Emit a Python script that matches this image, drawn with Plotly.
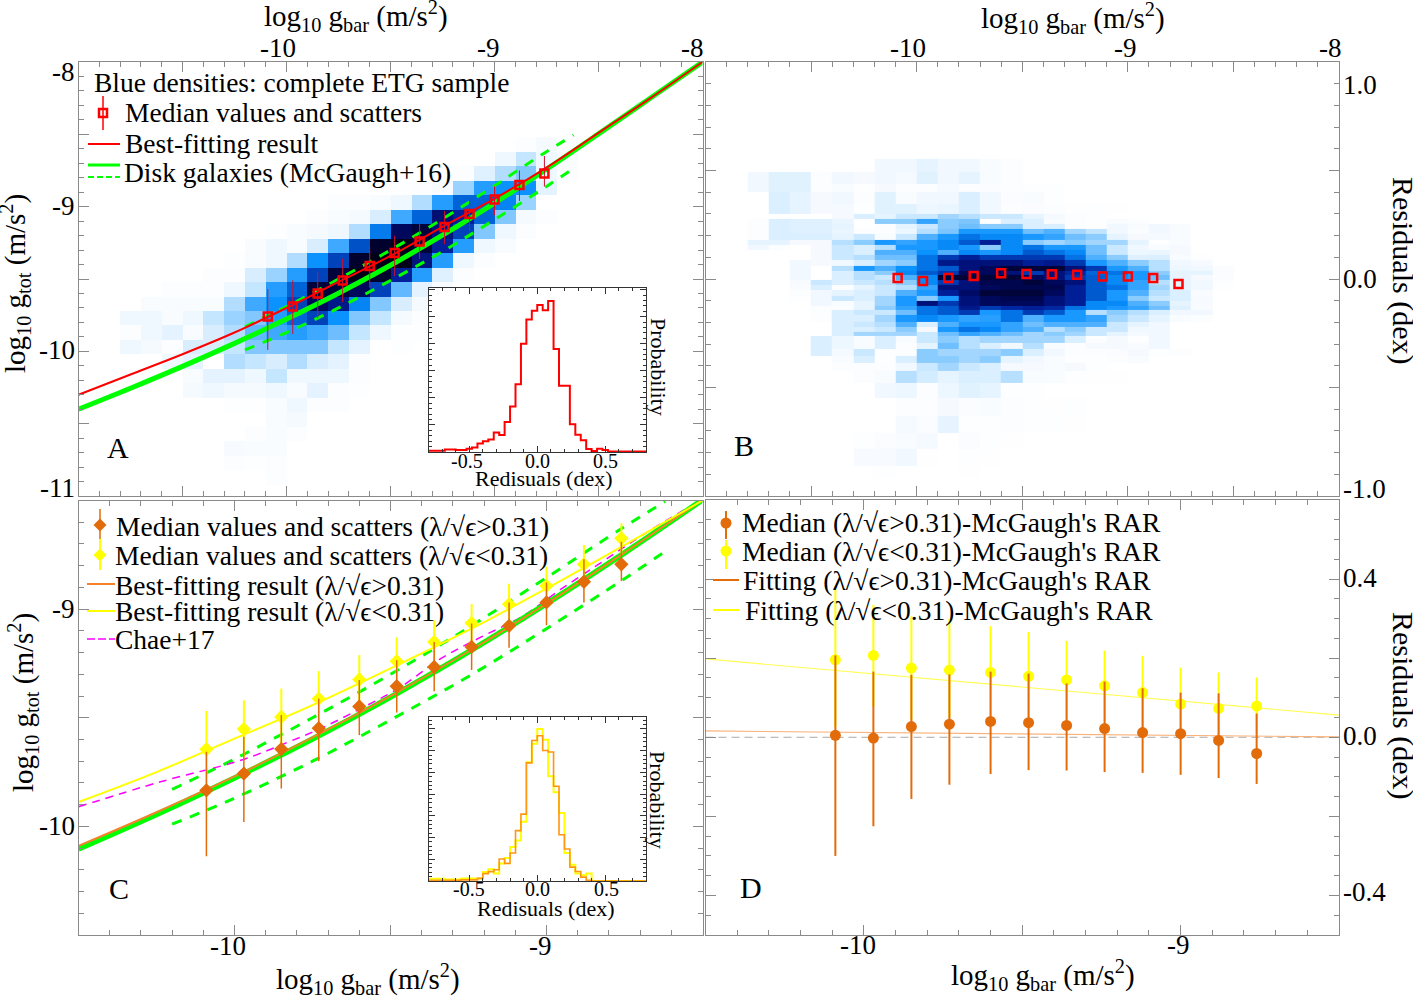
import plotly.graph_objects as go

W, H = 1413, 996
SERIF = "Liberation Serif"
GREEN = "#00ff00"
RED = "#ff0000"
ORANGE = "#e26b0a"
FIT_ORANGE = "#f5822a"
YELLOW = "#ffff00"
FRAME = "#8a8a8a"

# median points, same gbar bins in all four panels
gbar_bins = [-10.09, -9.97, -9.85, -9.73, -9.60, -9.48, -9.36, -9.24, -9.12, -9.00, -8.88, -8.76]

# panel A
a_med = [-9.76, -9.69, -9.60, -9.51, -9.41, -9.32, -9.24, -9.14, -9.05, -8.95, -8.85, -8.77]
a_up = [0.19, 0.18, 0.15, 0.15, 0.13, 0.12, 0.12, 0.11, 0.11, 0.09, 0.10, 0.12]
a_dn = [0.23, 0.19, 0.17, 0.15, 0.15, 0.16, 0.12, 0.12, 0.12, 0.11, 0.11, 0.09]

curve_x = [-11, -10.75, -10.5, -10.25, -10, -9.75, -9.5, -9.25, -9, -8.75, -8.5, -8.25, -8]
rar_y = [-10.40, -10.255, -10.104, -9.945, -9.777, -9.598, -9.405, -9.197, -8.975, -8.741, -8.497, -8.249, -8.0]
best_y = [-10.30, -10.16, -10.02, -9.87, -9.70, -9.52, -9.34, -9.14, -8.945, -8.73, -8.49, -8.25, -8.0]

dash_x = [-10.2, -10, -9.75, -9.5, -9.25, -9, -8.75, -8.62]
dash_hi = [-9.83, -9.69, -9.50, -9.30, -9.085, -8.855, -8.62, -8.505]
dash_lo = [-9.99, -9.87, -9.70, -9.51, -9.31, -9.09, -8.86, -8.735]

# panel B
b_med = [0.005, -0.009, 0.005, 0.014, 0.026, 0.023, 0.022, 0.02, 0.011, 0.011, 0.005, -0.023]

# panel C
c_fast = [-9.834, -9.757, -9.644, -9.548, -9.448, -9.355, -9.266, -9.174, -9.077, -8.969, -8.874, -8.794]
c_fast_up = [0.177, 0.169, 0.156, 0.136, 0.121, 0.12, 0.115, 0.108, 0.108, 0.092, 0.104, 0.104]
c_fast_dn = [0.304, 0.223, 0.182, 0.152, 0.132, 0.121, 0.112, 0.106, 0.101, 0.105, 0.095, 0.077]
c_slow = [-9.645, -9.552, -9.496, -9.412, -9.324, -9.24, -9.151, -9.064, -8.977, -8.893, -8.794, -8.674]
c_slow_up = [0.176, 0.131, 0.13, 0.126, 0.112, 0.11, 0.099, 0.087, 0.094, 0.088, 0.089, 0.069]
c_slow_dn = [0.18, 0.13, 0.13, 0.12, 0.11, 0.11, 0.10, 0.09, 0.09, 0.09, 0.09, 0.07]

c_curve_x = [-10.5, -10.25, -10, -9.75, -9.5, -9.25, -9, -8.75, -8.5]
c_rar = [-10.104, -9.945, -9.777, -9.598, -9.405, -9.197, -8.975, -8.741, -8.497]
c_fit_fast = [-10.09, -9.935, -9.77, -9.59, -9.40, -9.195, -8.975, -8.74, -8.497]
c_fit_slow = [-9.888, -9.75, -9.596, -9.442, -9.273, -9.097, -8.905, -8.705, -8.5]

chae_x = [-10.5, -10.24, -9.98, -9.84, -9.725, -9.596, -9.467, -9.338, -9.209, -9.08, -8.95, -8.821, -8.692, -8.524]
chae_y = [-9.91, -9.796, -9.696, -9.619, -9.55, -9.458, -9.358, -9.227, -9.128, -9.035, -8.905, -8.782, -8.659, -8.513]

# panel D
d_fast = [0.005, -0.002, 0.027, 0.033, 0.040, 0.037, 0.030, 0.022, 0.012, 0.009, -0.008, -0.041]
d_fast_up = [0.202, 0.168, 0.131, 0.126, 0.126, 0.124, 0.106, 0.119, 0.112, 0.104, 0.119, 0.101]
d_fast_dn = [0.305, 0.223, 0.183, 0.153, 0.133, 0.120, 0.114, 0.110, 0.102, 0.104, 0.095, 0.077]
d_slow = [0.196, 0.207, 0.175, 0.170, 0.164, 0.154, 0.145, 0.130, 0.113, 0.084, 0.073, 0.079]
d_slow_up = [0.178, 0.128, 0.131, 0.130, 0.117, 0.112, 0.099, 0.089, 0.093, 0.092, 0.091, 0.072]
d_slow_dn = [0.17, 0.13, 0.13, 0.12, 0.11, 0.11, 0.10, 0.09, 0.09, 0.09, 0.09, 0.07]
fit_ends_x = [-10.5, -8.5]
d_fit_fast = [0.016, 0.001]
d_fit_slow = [0.198, 0.056]
zero_line = [0, 0]

# residual histograms, 40 bins of 0.04 dex from -0.8 to 0.8
hist_a = [0.05, 0.05, 0.05, 0.09, 0.09, 0.07, 0.07, 0.12, 0.17, 0.31, 0.40, 0.46, 0.72, 0.63, 1.11, 1.68, 2.5, 4.0, 4.9, 5.22,
          5.43, 5.24, 5.58, 3.81, 2.45, 2.45, 1.03, 0.64, 0.43, 0.11, 0.04, 0.12, 0.07, 0.02, 0.02, 0.02, 0.02, 0.02, 0.02, 0.02]
hist_c_fast = [0.03, 0.03, 0.03, 0.03, 0.03, 0.03, 0.05, 0.05, 0.05, 0.12, 0.34, 0.43, 0.52, 1.01, 0.81, 1.29, 2.32, 3.08, 5.44, 6.47,
               6.69, 6.01, 5.94, 4.36, 2.13, 1.47, 0.64, 0.44, 0.18, 0.03, 0, 0, 0, 0, 0, 0, 0, 0, 0, 0]
hist_c_slow = [0.1, 0.1, 0.1, 0.07, 0.07, 0.07, 0.12, 0.12, 0.12, 0.12, 0.41, 0.54, 0.34, 0.8, 1.06, 1.56, 1.87, 2.73, 5.47, 6.32,
               7.0, 6.5, 4.82, 4.09, 3.13, 1.29, 0.75, 0.34, 0.26, 0.34, 0, 0, 0, 0, 0, 0, 0, 0, 0, 0]
hist_edges = [round(-0.8 + 0.04 * i, 2) for i in range(41)]

# density cells on 0-10 shade scale: (first column, shades), column 0 starts at -11, width 0.1 dex
heat_a_top_y = -8.572
heat_a_rows = [
    (21, [0.3, 0.7, 0.3]),
    (20, [1, 2.5, 1, 0.5]),
    (17, [0.2, 0.3, 1.7, 3, 4, 1, 0.3]),
    (15, [0.2, 0.3, 0.6, 3.5, 5.5, 6, 6, 1.5]),
    (12, [0.3, 0.3, 0.5, 1, 3, 5.5, 7, 7, 6.3, 3.5]),
    (11, [0.3, 0.5, 0.7, 2, 5, 7, 8.7, 8, 7, 4, 0.7, 0.3]),
    (9, [0.2, 0.5, 0.7, 1, 3, 6.5, 9, 9.5, 8.5, 7.5, 4, 1, 0.3]),
    (8, [0.5, 1, 0.5, 2, 5, 7.3, 9.7, 10, 9.5, 8, 5.5, 1, 0.5]),
    (7, [0.2, 0.5, 1, 3, 6, 7.5, 9.7, 10, 10, 8.5, 5.5, 1, 0.3]),
    (6, [0.3, 0.3, 2, 3.5, 5.5, 7.5, 9.5, 10, 9.7, 8, 5.5, 1.7, 0.3]),
    (4, [0.3, 0.3, 0.3, 1, 2.5, 5.5, 7, 9.5, 9.5, 9, 7.5, 4.5, 1.5, 0.5]),
    (3, [0.5, 0.5, 0.5, 0.5, 3, 5, 6, 7.5, 9, 8.3, 6.3, 4, 2, 0.7]),
    (2, [1, 1, 0.5, 1, 2.5, 3.5, 4, 5.5, 7, 7.5, 6, 4, 2.5, 0.7, 0.3, 0.2]),
    (2, [0.3, 1, 1.5, 0.5, 2, 3, 4.5, 5, 5.5, 5, 4.3, 2.5, 1, 0.2, 0.2]),
    (2, [1, 0.7, 0.3, 2, 2, 2.5, 4, 4, 4, 4, 2.5, 1.5, 0, 0.2]),
    (4, [1, 1.5, 0, 3, 2.5, 2, 3, 2, 1.5, 0.3]),
    (5, [0.5, 1.5, 1.5, 1, 2.5, 1, 1, 1, 0.3]),
    (5, [0.7, 1, 0.7, 0.7, 1, 0.5, 1.5, 0.3, 0.2]),
    (7, [0.2, 0.2, 0.5, 1, 0.3, 0.3]),
    (9, [0.5, 0.7]),
    (8, [0.3, 0.5, 0.3]),
    (7, [0.6, 0.5, 0.5]),
    (7, [0.3, 0.2, 0.3]),
    (9, [0.3]),
]

heat_b_edges = [0.5535, 0.4924, 0.4388, 0.4006, 0.3471, 0.3012, 0.2783, 0.2554, 0.2324, 0.2095, 0.1819, 0.1590, 0.1361, 0.1131,
                0.0902, 0.0612, 0.0382, 0.0183, -0.0046, -0.0275, -0.0505, -0.0765, -0.0994, -0.1223, -0.1422, -0.1651,
                -0.1957, -0.2187, -0.2416, -0.2615, -0.2951, -0.3211, -0.3563, -0.3869, -0.4251, -0.4786, -0.5474, -0.6315,
                -0.7080, -0.7844, -0.8609, -0.9144]
heat_b_rows = [
    (8, [1, 1, 1.5, 1, 1, 0.5, 0.3]),
    (2, [1, 1.7, 1.7, 0.3, 1, 0.7, 1, 0.8, 1.7, 1, 1.5, 0.5, 0.3]),
    (2, [1, 1.7, 1.7, 0.3, 0.5, 0.2, 0.7, 0.3, 0.3, 0.8, 0.3, 0.4, 0.3, 0.2, 0.2]),
    (3, [2, 1.5, 0.7, 1, 0.3, 1.7, 0.5, 1, 1, 2, 1, 0.4, 0.5, 0.2]),
    (3, [2, 1.5, 0.7, 0.8, 0.2, 1.7, 1.7, 1.2, 1.3, 2, 1, 0.3, 0.4, 0.3, 0.1, 0.2, 0.1]),
    (6, [0.7, 2, 1.5, 2.5, 2.5, 3.5, 3, 2.5, 2.5, 1.5, 0.8, 0.3, 0.1]),
    (2, [0.3, 2, 1.8, 1.8, 1.3, 0, 4, 4, 5.5, 4, 4.3, 0, 2, 2, 0.5, 0.3, 0.2, 0.5, 0.3]),
    (2, [0.3, 2, 1.8, 1.8, 1.5, 0, 0.3, 1.5, 2.5, 4, 4.5, 4, 4, 2, 2, 0.3, 0.1, 1, 0.5, 1, 0.5]),
    (2, [0.3, 2, 1.8, 1.8, 1.3, 0.3, 0.3, 1.2, 3, 4.3, 6, 6, 6, 4.5, 5, 3.5, 2.7, 1, 0.4, 1, 0.5]),
    (2, [0.3, 2, 2, 2, 1.5, 2.5, 0.5, 2.5, 5, 6, 7, 6.5, 6.5, 6, 5.5, 4.5, 4, 1.5, 0.7, 0.8, 0.5]),
    (2, [1.5, 1.5, 0.7, 0.7, 3, 4, 6, 5.5, 6, 6.5, 7.5, 8.5, 6.5, 4, 3.5, 4, 3.5, 3.5, 1.5, 0.2, 0.5]),
    (2, [1, 0.3, 0, 0.7, 2.5, 2, 3, 6, 6, 6.5, 6, 4, 6.5, 7, 6, 6, 4.5, 2.5, 1, 0.5, 0.7]),
    (5, [0.7, 2.5, 2, 5, 5, 6.3, 5, 6.5, 6, 6.5, 7.5, 7, 6.5, 4.5, 2.5, 1.2, 1.3, 0.7]),
    (5, [0.7, 2.5, 3, 4.5, 4.5, 7, 8, 8.5, 8, 8, 8, 8, 7, 5, 4, 1.8, 2, 0.5, 0.2]),
    (4, [1, 0.7, 1, 2, 3.5, 4, 7, 8.7, 9, 9, 9, 8.5, 8.7, 8, 6, 5, 4, 3, 1, 0.6]),
    (4, [1, 0, 3, 6, 5, 6.3, 7, 7.5, 9, 9.5, 10, 10, 10, 9, 8, 6, 5, 3, 1.2, 1, 0.4]),
    (4, [1, 0, 2, 3, 4, 6.5, 7.5, 8, 9.5, 9.5, 9, 8, 9, 8.3, 7.3, 7, 6, 4, 1.5, 1.5, 0.4]),
    (4, [1, 0, 2, 3, 2.5, 5, 6.5, 10, 10, 10, 10, 9.5, 9, 8, 7.5, 6.5, 6, 4.5, 1.5, 0.7, 0.4]),
    (4, [0.6, 2.5, 2, 2.5, 3, 4, 6.5, 8, 9, 9.7, 9.7, 10, 9.5, 9, 7.5, 6.5, 5.5, 3, 1.5, 1, 0.3]),
    (4, [0.5, 2, 0.3, 1.5, 2.5, 3, 5.5, 9, 9, 9.5, 9.7, 9.7, 9.7, 8.5, 7.5, 7, 5.5, 3.5, 1.5, 1, 0.2]),
    (4, [0.3, 1, 1.5, 2, 2.5, 5, 6, 8.5, 9.3, 10, 10, 10, 9.5, 8.5, 7.5, 6, 5, 3, 2, 0.5]),
    (4, [0.2, 1, 2.5, 2, 3.5, 6, 4, 6, 9, 9.5, 9.7, 9.7, 9, 8.5, 7.5, 6, 4, 2.5, 2, 0.6]),
    (5, [1, 0.5, 1.5, 3.5, 6, 9, 8, 9, 9.5, 9.5, 9.5, 9, 8.5, 6.5, 6.5, 5, 4, 1.5, 0.6]),
    (5, [0.3, 0.3, 1.5, 4, 5.5, 7, 7.5, 8.7, 8, 8.3, 8.5, 8.3, 7, 6.5, 6, 5.5, 4.5, 1.8, 0.5]),
    (5, [0.3, 2, 2.5, 2.5, 4.5, 7, 7.5, 8, 6, 7, 8, 7.5, 6, 3, 4, 3, 2, 1, 1]),
    (5, [0.3, 2, 2, 3.5, 6, 6.5, 6, 5.5, 5.7, 7, 5, 6, 6, 5.5, 3.5, 2.5, 1.5, 0.5, 0.3]),
    (6, [2, 2.5, 3, 5, 2, 5, 6, 6, 5.5, 4.5, 5, 5, 5, 2.5, 1.5, 1]),
    (6, [2, 2, 2.5, 4, 0.7, 6, 7, 6.5, 5.5, 5, 3, 4, 2.5, 2.5, 1, 1]),
    (6, [2, 3.5, 3.5, 3.5, 2.5, 4.5, 5.5, 5, 4.5, 3.5, 4, 3.5, 2.5, 1.5, 0.8, 1]),
    (5, [2, 1.2, 0.5, 2, 0.5, 2.5, 4, 3, 3.5, 3.5, 3.5, 3.5, 2, 0.3, 0.7, 0.2, 1]),
    (5, [2, 1.2, 0.5, 2, 0.3, 1.5, 4.5, 3, 2, 1, 3, 0.5, 0.3, 0.7, 0.7, 0.5, 1]),
    (5, [2, 0.8, 2.5, 0.2, 0.3, 4, 3.5, 3.5, 3.5, 4, 2, 1, 0.3, 0.3, 0.4, 0.7, 0.2, 0.3]),
    (6, [0.5, 2, 0.2, 2, 4, 4, 3.5, 4, 1.5, 1, 0.5, 0.2, 0.2, 0.3, 0.5]),
    (6, [0.3, 0.3, 0.3, 1, 2.5, 3.5, 2.5, 2, 0.7, 0.7, 0.5, 0.7, 0.2]),
    (7, [0.3, 0.5, 3, 2.2, 1.5, 2, 2, 3, 0.5, 0.5, 0.2, 0.1, 0.1]),
    (8, [1, 1.2, 0.3, 1.2, 1.7, 1.5, 0.2, 0.2]),
    (9, [0.3, 0.3, 0.7, 0.4, 0.5, 0.3, 0.2, 0.1, 0.2]),
    (9, [0.8, 0.4, 1.5, 0.2, 0.2, 0.3, 0.2, 0.2, 0.1]),
    (7, [0.2, 0.4, 0.5, 0.8, 0, 0.4, 0.2, 0.1]),
    (7, [0.6, 0.6, 1, 0.1, 0, 0.2, 0.1]),
    (8, [0.2, 0, 0, 0, 0.1]),
]

shades = [[0, "#ffffff"], [0.03, "#fcfdff"], [0.1, "#f0f8ff"], [0.2, "#d8eeff"], [0.3, "#b2ddff"], [0.4, "#82c8ff"],
          [0.5, "#3fa8ff"], [0.6, "#0a92ff"], [0.7, "#0064d8"], [0.8, "#00209c"], [0.9, "#00085e"], [1, "#000018"]]


def fx(px):
    return px / W


def fy(py):
    return 1 - py / H


def grid(rows, first=2, last=24):
    # expand (first column, shades) rows to full lists, bottom row first
    out = []
    for start, vals in rows:
        row = [0] * (last - first + 1)
        for i, v in enumerate(vals):
            if start - first + i < len(row):
                row[start - first + i] = v
        out.append(row)
    return out[::-1]


def big_axis(rng, major, minor, left, right, anchor, side=None):
    return dict(domain=[left, right], range=rng, anchor=anchor, side=side, tickmode="array", tickvals=major,
                showticklabels=False, showgrid=False, zeroline=False, showline=True, linecolor=FRAME, linewidth=1,
                mirror="ticks", ticks="inside", ticklen=10, tickcolor=FRAME, tickwidth=1,
                minor=dict(tickmode="array", tickvals=minor, ticks="inside", ticklen=5, tickcolor=FRAME, tickwidth=1,
                           showgrid=False))


def inset_axis(rng, major, minor, left, right, anchor):
    return dict(domain=[left, right], range=rng, anchor=anchor, tickmode="array", tickvals=major,
                showticklabels=False, showgrid=False, zeroline=False, showline=True, linecolor="#333333", linewidth=1,
                mirror="ticks", ticks="inside", ticklen=6, tickcolor="#333333", tickwidth=1,
                minor=dict(tickmode="array", tickvals=minor, ticks="inside", ticklen=3, tickcolor="#333333", tickwidth=1,
                           showgrid=False))


def steps(vals):
    return vals + [vals[-1]]


def tenths(lo, hi):
    return [round(lo + 0.1 * i, 1) for i in range(int(round((hi - lo) * 10)) + 1)]


fig = go.Figure()


def line(x, y, color, width, ax, dash=None, shape="spline"):
    fig.add_trace(go.Scatter(x=x, y=y, mode="lines", xaxis="x" + ax, yaxis="y" + ax, showlegend=False,
                             line=dict(color=color, width=width, dash=dash, shape=shape)))


def points(y, up, dn, ax, symbol, size, color, bar_color, bar_width, open_line=0):
    fig.add_trace(go.Scatter(x=gbar_bins, y=y, mode="markers", xaxis="x" + ax, yaxis="y" + ax, showlegend=False,
                             marker=dict(symbol=symbol, size=size, color=color, line=dict(color=color, width=open_line)),
                             error_y=dict(type="data", symmetric=False, array=up, arrayminus=dn, width=0,
                                          color=bar_color, thickness=bar_width)))


def inset_paper(ax, top):
    # white card under an inset so the density cells do not show through
    fig.add_trace(go.Scatter(x=[-0.8, 0.8, 0.8, -0.8, -0.8], y=[0, 0, top, top, 0], mode="lines", fill="toself",
                             fillcolor="white", line=dict(width=0), xaxis="x" + ax, yaxis="y" + ax, showlegend=False))


# panel A
fig.add_trace(go.Heatmap(z=grid(heat_a_rows, last=23), x0=-10.75, dx=0.1, y0=heat_a_top_y - 0.1 * (len(heat_a_rows) - 1), dy=0.1,
                         colorscale=shades, zmin=0, zmax=10, showscale=False, xaxis="x", yaxis="y"))
line(dash_x, dash_hi, GREEN, 3, "", dash="10px,9px")
line(dash_x, dash_lo, GREEN, 3, "", dash="10px,9px")
line(curve_x, rar_y, GREEN, 5, "")
line(curve_x, best_y, RED, 2, "")
points(a_med, a_up, a_dn, "", "square-open", 8, RED, "#d01030", 1, open_line=2.5)

# panel B
fig.add_trace(go.Heatmap(z=grid(heat_b_rows), x0=-10.75, dx=0.1, y=heat_b_edges[::-1], colorscale=shades, zmin=0, zmax=10.5,
                         showscale=False, xaxis="x2", yaxis="y2"))
fig.add_trace(go.Scatter(x=gbar_bins, y=b_med, mode="markers", xaxis="x2", yaxis="y2", showlegend=False,
                         marker=dict(symbol="square-open", size=8, color=RED, line=dict(color=RED, width=2.5))))

# panel C
line(dash_x, dash_hi, GREEN, 3, "3", dash="10px,9px")
line(dash_x, dash_lo, GREEN, 3, "3", dash="10px,9px")
line(chae_x, chae_y, "#ff00ff", 1.5, "3", dash="8px,6px")
line(c_curve_x, c_rar, GREEN, 5.5, "3")
line(c_curve_x, c_fit_fast, FIT_ORANGE, 2, "3")
line(c_curve_x, c_fit_slow, YELLOW, 2, "3")
points(c_slow, c_slow_up, c_slow_dn, "3", "diamond", 11, YELLOW, YELLOW, 2)
points(c_fast, c_fast_up, c_fast_dn, "3", "diamond", 11, ORANGE, ORANGE, 1.5)

# panel D
line(fit_ends_x, zero_line, "#aaaaaa", 1, "4", dash="8px,5px", shape="linear")
line(fit_ends_x, d_fit_slow, "#ffff55", 1.2, "4", shape="linear")
line(fit_ends_x, d_fit_fast, "#f9b27a", 1.2, "4", shape="linear")
points(d_slow, d_slow_up, d_slow_dn, "4", "circle", 11, YELLOW, YELLOW, 2)
points(d_fast, d_fast_up, d_fast_dn, "4", "circle", 11, ORANGE, ORANGE, 2)

# insets
inset_paper("5", 6.06)
line(hist_edges, steps(hist_a), RED, 2, "5", shape="hv")
inset_paper("6", 7.55)
line(hist_edges, steps(hist_c_slow), YELLOW, 2, "6", shape="hv")
line(hist_edges, steps(hist_c_fast), "#ff9510", 1.6, "6", shape="hv")

# legend keys live on a full figure axis in pixels
keys = [
    ([88, 120], [144, 144], RED, 2, None),
    ([88, 120], [165, 165], GREEN, 3, None),
    ([88, 120], [177, 177], GREEN, 2, "6px,3px"),
    ([87, 115], [584, 584], FIT_ORANGE, 2, None),
    ([87, 115], [611, 611], YELLOW, 2, None),
    ([87, 115], [639, 639], "#ff00ff", 1.5, "8px,3px"),
    ([713, 739], [580, 580], ORANGE, 2, None),
    ([713, 739], [610, 610], YELLOW, 2, None),
    ([103, 103], [96, 130], RED, 1.5, None),
    ([100, 100], [509, 541], ORANGE, 1.5, None),
    ([100, 100], [539, 570], YELLOW, 2, None),
    ([726, 726], [511, 539], ORANGE, 2, None),
    ([726, 726], [540, 569], YELLOW, 2, None),
]
for kx, ky, color, width, dash in keys:
    line(kx, ky, color, width, "7", dash=dash, shape="linear")
key_marks = [
    (103, 113, "square-open", 8, RED, 2.5),
    (100, 525, "diamond", 10, ORANGE, 0),
    (100, 555, "diamond", 10, YELLOW, 0),
    (726, 523, "circle", 11, ORANGE, 0),
    (726, 551, "circle", 11, YELLOW, 0),
]
for kx, ky, symbol, size, color, lw in key_marks:
    fig.add_trace(go.Scatter(x=[kx], y=[ky], mode="markers", xaxis="x7", yaxis="y7", showlegend=False,
                             marker=dict(symbol=symbol, size=size, color=color, line=dict(color=color, width=lw))))

texts = []


def label(px, py, text, size=27, xanchor="center", angle=0):
    # annotations pad their box by about 2px, pull left aligned text back
    if xanchor == "left":
        px -= 2
    if xanchor == "right":
        px += 2
    texts.append(dict(x=fx(px), y=fy(py), xref="paper", yref="paper", text=text, showarrow=False, textangle=angle,
                      xanchor=xanchor, yanchor="middle", font=dict(family=SERIF, size=size, color="black")))


# axis titles
GBAR = "log<sub>10</sub> g<sub>bar</sub> (m/s<sup>2</sup>)"
GTOT = "log<sub>10</sub> g<sub>tot</sub> (m/s<sup>2</sup>)"
label(356, 16, GBAR, 29)
label(1073, 18, GBAR, 29)
label(368, 979, GBAR, 29)
label(1043, 975, GBAR, 29)
label(15, 284, GTOT, 29, angle=-90)
label(23, 703, GTOT, 29, angle=-90)
label(1403, 270, "Residuals (dex)", 30, angle=90)
label(1403, 705, "Residuals (dex)", 30, angle=90)

# tick labels, the originals sit a little off their ticks
for px, text in [(278, "-10"), (489, "-9"), (692, "-8"), (908, "-10"), (1125, "-9"), (1330, "-8")]:
    label(px, 48, text)
for py, text in [(72, "-8"), (206, "-9"), (350, "-10"), (488, "-11"), (609, "-9"), (826, "-10")]:
    label(75, py, text, xanchor="right")
for py, text in [(85, "1.0"), (279, "0.0"), (489, "-1.0"), (578, "0.4"), (736, "0.0"), (892, "-0.4")]:
    label(1343, py, text, xanchor="left")
for px, text in [(228, "-10"), (540, "-9")]:
    label(px, 946, text)
for px, text in [(858, "-10"), (1178, "-9")]:
    label(px, 945, text)

# panel letters
label(118, 447, "A", 30)
label(744, 445, "B", 30)
label(119, 888, "C", 30)
label(751, 887, "D", 30)

# legends
LEG = 27.5
label(94, 82, "Blue densities: complete ETG sample", LEG, xanchor="left")
label(125, 113, "Median values and scatters", LEG, xanchor="left")
label(125, 143, "Best-fitting result", LEG, xanchor="left")
label(124, 172, "Disk galaxies (McGaugh+16)", LEG, xanchor="left")
label(116, 526, "Median values and scatters (λ/√ϵ&gt;0.31)", LEG, xanchor="left")
label(115, 555, "Median values and scatters (λ/√ϵ&lt;0.31)", LEG, xanchor="left")
label(115, 585, "Best-fitting result (λ/√ϵ&gt;0.31)", LEG, xanchor="left")
label(115, 611, "Best-fitting result (λ/√ϵ&lt;0.31)", LEG, xanchor="left")
label(115, 639, "Chae+17", LEG, xanchor="left")
label(742, 522, "Median (λ/√ϵ&gt;0.31)-McGaugh's RAR", LEG, xanchor="left")
label(742, 551, "Median (λ/√ϵ&lt;0.31)-McGaugh's RAR", LEG, xanchor="left")
label(743, 580, "Fitting (λ/√ϵ&gt;0.31)-McGaugh's RAR", LEG, xanchor="left")
label(745, 610, "Fitting (λ/√ϵ&lt;0.31)-McGaugh's RAR", LEG, xanchor="left")

# inset labels
for px, text in [(467, "-0.5"), (537, "0.0"), (605, "0.5")]:
    label(px, 461, text, 20)
for px, text in [(469, "-0.5"), (537, "0.0"), (606, "0.5")]:
    label(px, 889, text, 20)
label(543, 478, "Redisuals (dex)", 22)
label(545, 908, "Redisuals (dex)", 22)
label(658, 367, "Probability", 22, angle=90)
label(658, 800, "Probability", 22, angle=90)

half_dex = [-11, -10.5, -10, -9.5, -9, -8.5, -8]
half_dex_c = [-10.5, -10, -9.5, -9, -8.5]

fig.update_layout(
    width=W, height=H, margin=dict(l=0, r=0, t=0, b=0), paper_bgcolor="white", plot_bgcolor="rgba(0,0,0,0)",
    showlegend=False, annotations=texts,
    xaxis=big_axis([-11, -8], half_dex, tenths(-11, -8), fx(78.5), fx(702.5), "y", "top"),
    yaxis=big_axis([-11, -8], half_dex, tenths(-11, -8), fy(496), fy(62), "x"),
    xaxis2=big_axis([-11, -8], half_dex, tenths(-11, -8), fx(705.5), fx(1339), "y2", "top"),
    yaxis2=big_axis([-1, 1], [-1, -0.5, 0, 0.5, 1], tenths(-1, 1), fy(496), fy(62), "x2", "right"),
    xaxis3=big_axis([-10.5, -8.5], half_dex_c, tenths(-10.5, -8.5), fx(78.5), fx(702.5), "y3"),
    yaxis3=big_axis([-10.5, -8.5], half_dex_c, tenths(-10.5, -8.5), fy(935), fy(500.5), "x3"),
    xaxis4=big_axis([-10.5, -8.5], half_dex_c, tenths(-10.5, -8.5), fx(705.5), fx(1339), "y4"),
    yaxis4=big_axis([-0.5, 0.6], [-0.4, -0.2, 0, 0.2, 0.4, 0.6], [round(-0.5 + 0.05 * i, 2) for i in range(23)],
                    fy(935), fy(500), "x4", "right"),
    xaxis5=inset_axis([-0.8, 0.8], [-0.5, 0, 0.5], tenths(-0.8, 0.8), fx(428.5), fx(646), "y5"),
    yaxis5=inset_axis([0, 6.06], [0, 1, 2, 3, 4, 5, 6], [i * 0.2 for i in range(31)], fy(452), fy(288), "x5"),
    xaxis6=inset_axis([-0.8, 0.8], [-0.5, 0, 0.5], tenths(-0.8, 0.8), fx(428.5), fx(646), "y6"),
    yaxis6=inset_axis([0, 7.55], [0, 1, 2, 3, 4, 5, 6, 7], [i * 0.2 for i in range(38)], fy(881), fy(717), "x6"),
    xaxis7=dict(domain=[0, 1], range=[0, W], anchor="y7", visible=False),
    yaxis7=dict(domain=[0, 1], range=[H, 0], anchor="x7", visible=False),
)

fig.write_html("out.html", config=dict(displayModeBar=False), post_script="document.body.style.margin='0';")
